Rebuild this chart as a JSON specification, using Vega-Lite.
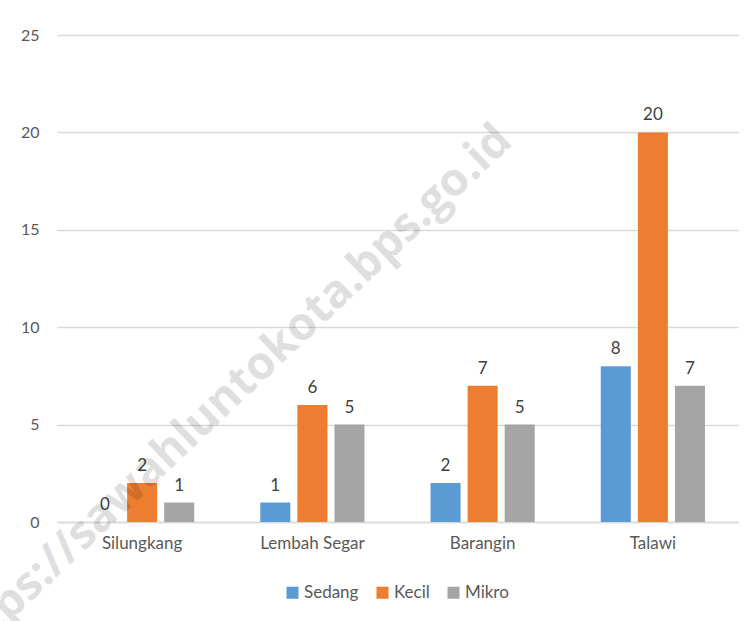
{
  "$schema": "https://vega.github.io/schema/vega-lite/v6.json",
  "width": 681,
  "height": 487,
  "autosize": {"type": "none"},
  "padding": {"left": 57, "top": 35, "right": 14, "bottom": 99},
  "background": "white",
  "config": {
    "view": {"stroke": null},
    "font": "Lato",
    "axis": {"labelFont": "Lato", "labelColor": "#595959", "labelFontSize": 17}
  },
  "datasets": {
    "main": [
      {"kecamatan": "Silungkang", "jenis": "Sedang", "jumlah": 0},
      {"kecamatan": "Silungkang", "jenis": "Kecil", "jumlah": 2},
      {"kecamatan": "Silungkang", "jenis": "Mikro", "jumlah": 1},
      {"kecamatan": "Lembah Segar", "jenis": "Sedang", "jumlah": 1},
      {"kecamatan": "Lembah Segar", "jenis": "Kecil", "jumlah": 6},
      {"kecamatan": "Lembah Segar", "jenis": "Mikro", "jumlah": 5},
      {"kecamatan": "Barangin", "jenis": "Sedang", "jumlah": 2},
      {"kecamatan": "Barangin", "jenis": "Kecil", "jumlah": 7},
      {"kecamatan": "Barangin", "jenis": "Mikro", "jumlah": 5},
      {"kecamatan": "Talawi", "jenis": "Sedang", "jumlah": 8},
      {"kecamatan": "Talawi", "jenis": "Kecil", "jumlah": 20},
      {"kecamatan": "Talawi", "jenis": "Mikro", "jumlah": 7}
    ],
    "wm": [{"t": "https://sawahluntokota.bps.go.id"}]
  },
  "layer": [
    {
      "data": {"name": "main"},
      "mark": {"type": "bar"},
      "encoding": {
        "x": {
          "field": "kecamatan", "type": "nominal",
          "sort": ["Silungkang", "Lembah Segar", "Barangin", "Talawi"],
          "scale": {"paddingInner": 0.388, "paddingOuter": 0.194},
          "axis": {"title": null, "labelAngle": 0, "ticks": false, "domain": true, "domainColor": "#d9d9d9", "domainWidth": 1.5, "labelPadding": 13}
        },
        "xOffset": {
          "field": "jenis", "type": "nominal",
          "sort": ["Sedang", "Kecil", "Mikro"],
          "scale": {"paddingInner": 0.19, "paddingOuter": 0}
        },
        "y": {
          "field": "jumlah", "type": "quantitative",
          "scale": {"domain": [0, 25], "nice": false},
          "axis": {"title": null, "values": [0, 5, 10, 15, 20, 25], "domain": false, "ticks": false, "tickSize": 0, "labelPadding": 18, "labelFontSize": 16, "gridColor": "#d9d9d9", "gridWidth": 1.5}
        },
        "color": {
          "field": "jenis", "type": "nominal",
          "sort": ["Sedang", "Kecil", "Mikro"],
          "scale": {"domain": ["Sedang", "Kecil", "Mikro"], "range": ["#5B9BD5", "#ED7D31", "#A5A5A5"]},
          "legend": {
            "title": null, "orient": "none", "direction": "horizontal",
            "legendX": 227, "legendY": 549,
            "symbolType": "square", "symbolSize": 144, "symbolStrokeWidth": 0,
            "labelFont": "Lato", "labelFontSize": 17, "labelColor": "#595959",
            "labelOffset": 3, "columnPadding": 15
          }
        }
      }
    },
    {
      "data": {"name": "main"},
      "mark": {"type": "text", "baseline": "bottom", "dy": -8, "fontSize": 17, "color": "#404040", "font": "Lato"},
      "encoding": {
        "x": {"field": "kecamatan", "type": "nominal", "sort": ["Silungkang", "Lembah Segar", "Barangin", "Talawi"]},
        "xOffset": {"field": "jenis", "type": "nominal", "sort": ["Sedang", "Kecil", "Mikro"]},
        "y": {"field": "jumlah", "type": "quantitative"},
        "text": {"field": "jumlah", "type": "quantitative"}
      }
    },
    {
      "data": {"name": "wm"},
      "mark": {"type": "text", "align": "right", "baseline": "middle", "angle": -43.5, "fontSize": 46, "fontWeight": "bold", "font": "Open Sans", "color": "#000000", "opacity": 0.12, "dx": 30},
      "encoding": {
        "x": {"datum": "Barangin"},
        "y": {"datum": 18.9},
        "text": {"field": "t"}
      }
    }
  ]
}
